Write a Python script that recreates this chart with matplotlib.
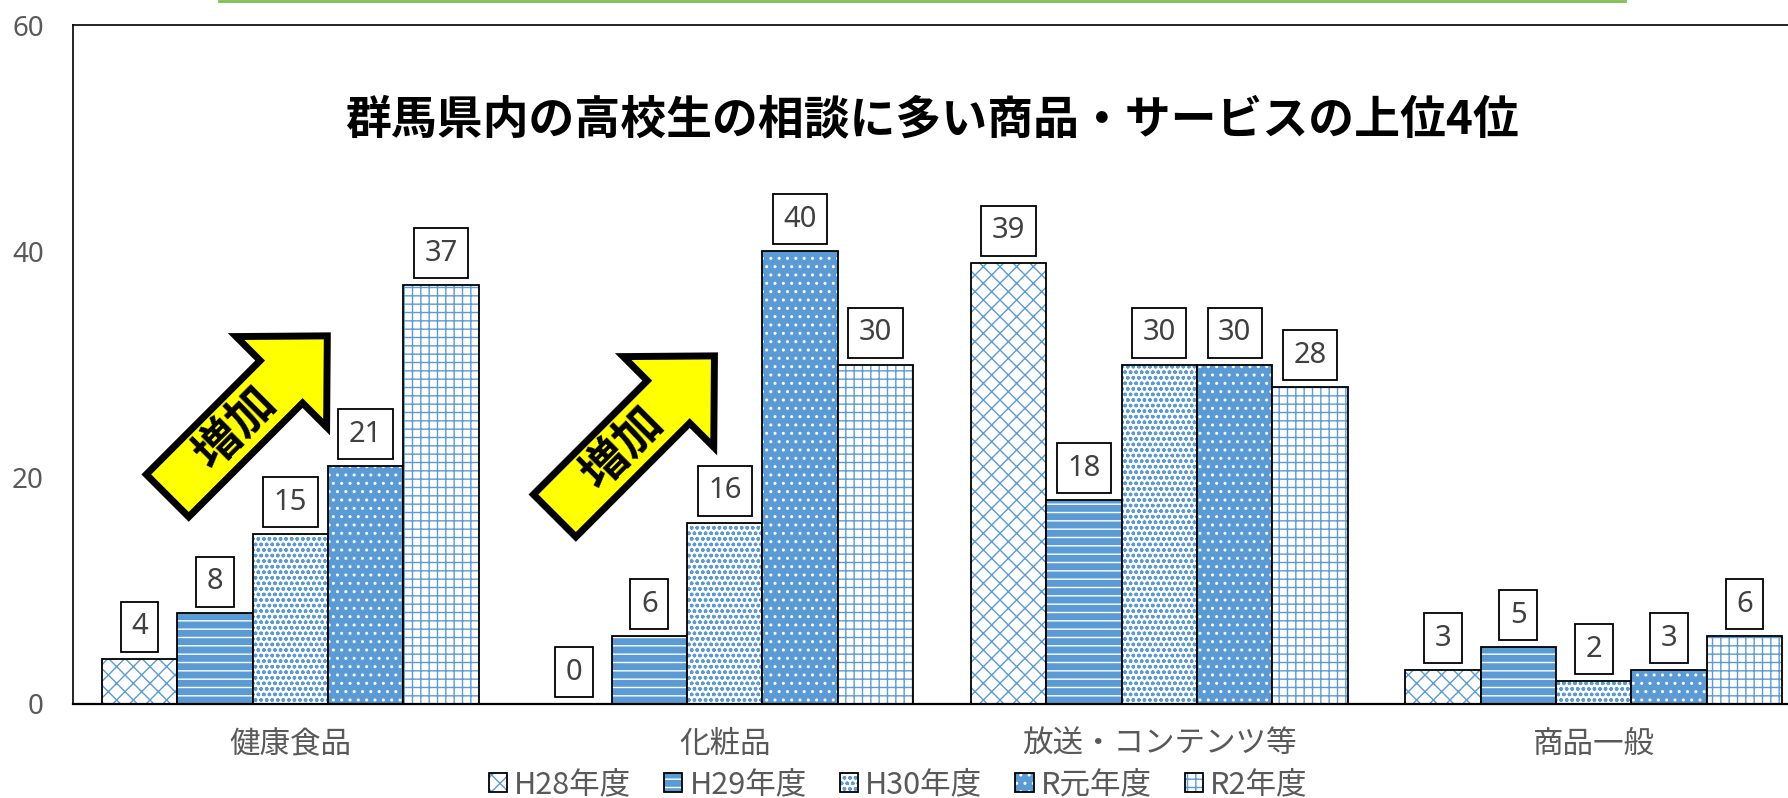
import matplotlib
matplotlib.use('Agg')
import matplotlib.pyplot as plt
import matplotlib.transforms as mtransforms
from matplotlib.patches import Polygon
from matplotlib.lines import Line2D
import numpy as np

plt.rcParams['font.family'] = ['Noto Sans CJK JP', 'DejaVu Sans']
plt.rcParams['hatch.linewidth'] = 1.0

# data
categories = ['健康食品', '化粧品', '放送・コンテンツ等', '商品一般']
years = ['H28年度', 'H29年度', 'H30年度', 'R元年度', 'R2年度']
h28 = [4, 0, 39, 3]
h29 = [8, 6, 18, 5]
h30 = [15, 16, 30, 2]
r1 = [21, 40, 30, 3]
r2 = [37, 30, 28, 6]
series = [h28, h29, h30, r1, r2]

title = '群馬県内の高校生の相談に多い商品・サービスの上位4位'
arrow_text = '増加'
arrow_tails = [(-0.289, 18.16), (0.602, 16.39)]  # where each arrow starts (data coords)

blue = '#5B9BD5'
gray = '#595959'
num_font = ['Noto Sans', 'DejaVu Sans']
# face colour, hatch colour, hatch for every year
styles = [('white', blue, 'xx'),
          (blue, 'white', '--'),
          ('white', blue, 'ooo'),
          (blue, 'white', '..'),
          ('white', blue, '++')]

W, H = 1788, 798
fig = plt.figure(figsize=(W / 100, H / 100), dpi=100)
ax = fig.add_axes([73 / W, 94 / H, 1738 / W, 679 / H])

x = np.arange(len(categories))
bw = 0.1735
handles = []
for i, (vals, (fc, hc, hatch)) in enumerate(zip(series, styles)):
    pos = x + (i - 2) * bw
    # pattern fill first, black outline on top (hatch colour follows edgecolor)
    fill = ax.bar(pos, vals, bw, color=fc, edgecolor=hc, hatch=hatch, linewidth=0)
    edge = ax.bar(pos, vals, bw, fill=False, edgecolor='black', linewidth=1.3)
    handles.append((fill[0], edge[0]))
    for xp, v in zip(pos, vals):
        ax.annotate(str(v), (xp, v), xytext=(0, 23), textcoords='offset points',
                    ha='center', va='center', fontsize=21, color='#404040',
                    family=num_font,
                    bbox=dict(boxstyle='square,pad=0.36', fc='white', ec='black', lw=1.3))

# yellow "増加" block arrows, sizes in pixels, pointing up-right
length, head_len, head_half, shaft_half = 230, 65, 64, 30
shape = [(4, -shaft_half), (length - head_len, -shaft_half), (length - head_len, -head_half),
         (length, 0), (length - head_len, head_half), (length - head_len, shaft_half),
         (4, shaft_half)]
for tx, ty in arrow_tails:
    tr = (mtransforms.Affine2D().scale(1 / 100).rotate_deg(45) + fig.dpi_scale_trans
          + mtransforms.ScaledTranslation(tx, ty, ax.transData))
    ax.add_patch(Polygon(shape, closed=True, fc='#FFFF00', ec='black', lw=5,
                         joinstyle='miter', transform=tr))
    ax.text(100, 0, arrow_text, transform=tr, rotation=45, rotation_mode='anchor',
            ha='center', va='center', fontsize=34, fontweight='bold', color='black')

ax.set_xlim(-0.5, 3.5)
ax.set_ylim(0, 60)
ax.set_yticks([0, 20, 40, 60])
ax.set_xticks(x)
ax.set_xticklabels(categories)
for lab in ax.get_yticklabels():
    lab.set_family(num_font)
ax.tick_params(axis='y', length=0, pad=21, labelsize=20, labelcolor=gray)
ax.tick_params(axis='x', length=0, pad=18, labelsize=22, labelcolor=gray)
ax.spines['right'].set_visible(False)
ax.spines['top'].set_linewidth(1.2)
ax.spines['left'].set_linewidth(1.2)
ax.spines['bottom'].set_linewidth(1.6)

fig.text(932 / W, 1 - 120 / H, title, ha='center', va='center',
         fontsize=33, fontweight='bold', color='black')

fig.legend(handles, years, loc='center', bbox_to_anchor=(898 / W, 13 / H), ncol=5,
           frameon=False, fontsize=22, handlelength=0.6, handleheight=0.6,
           handletextpad=0.23, columnspacing=1.08, borderpad=0, labelcolor=gray)

# thin green line along the top edge
fig.add_artist(Line2D([219 / W, 1625 / W], [1 - 1.2 / H, 1 - 1.2 / H],
                      transform=fig.transFigure, color='#7DBE55', lw=2))

fig.savefig('out.png', dpi=100)
